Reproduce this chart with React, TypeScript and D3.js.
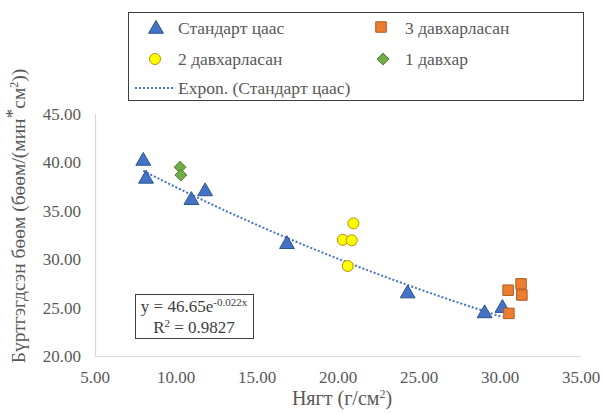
import React from "react";
import * as d3 from "d3";

const standardX = [7.98, 8.15, 10.95, 11.8, 16.85, 24.3, 29.05, 30.15];
const standardY = [40.25, 38.4, 36.2, 37.1, 31.65, 26.55, 24.5, 25.05];
const layer2X = [20.95, 20.3, 20.85, 20.6];
const layer2Y = [33.7, 32.0, 31.95, 29.3];
const layer3X = [30.5, 31.3, 31.35, 30.55];
const layer3Y = [26.8, 27.45, 26.3, 24.4];
const layer1X = [10.25, 10.3];
const layer1Y = [39.5, 38.7];
const xTicks = [5, 10, 15, 20, 25, 30, 35];
const yTicks = [20, 25, 30, 35, 40, 45];
const trendA = 46.65;
const trendB = -0.022;

const W = 603;
const H = 414;
const FONT = "Liberation Serif";

const pairs = (xs: number[], ys: number[]) => xs.map((x, i) => [x, ys[i]] as [number, number]);

export default function App() {
  const x = d3.scaleLinear().domain([5, 35]).range([95, 581]);
  const y = d3.scaleLinear().domain([20, 45]).range([356, 114]);

  const triangle = d3.symbol().type(d3.symbolTriangle).size(95)()!;
  const square = d3.symbol().type(d3.symbolSquare).size(110)()!;
  const diamond = d3.symbol().type(d3.symbolDiamond2).size(90)()!;

  const xMin = d3.min(standardX)!;
  const xMax = d3.max(standardX)!;
  const trendPts = d3.range(0, 51).map((i) => {
    const v = xMin + ((xMax - xMin) * i) / 50;
    return [v, trendA * Math.exp(trendB * v)] as [number, number];
  });
  const trendLine = d3
    .line<[number, number]>()
    .x((d) => x(d[0]))
    .y((d) => y(d[1]))(trendPts)!;

  const tri = (cx: number, cy: number, k: string | number) => (
    <path key={k} d={triangle} transform={`translate(${cx},${cy + 1})`} fill="#4472C4" stroke="#2F528F" strokeWidth={1} />
  );
  const sq = (cx: number, cy: number, k: string | number) => (
    <path key={k} d={square} transform={`translate(${cx},${cy})`} fill="#ED7D31" stroke="#AE5A21" strokeWidth={1} />
  );
  const circ = (cx: number, cy: number, k: string | number) => (
    <circle key={k} cx={cx} cy={cy} r={5.5} fill="#FFFF00" stroke="#BC8C00" strokeWidth={1} />
  );
  const dia = (cx: number, cy: number, k: string | number) => (
    <path key={k} d={diamond} transform={`translate(${cx},${cy})`} fill="#70AD47" stroke="#507E32" strokeWidth={1} />
  );

  const txt = { fontFamily: FONT };

  return (
    <svg width={W} height={H} style={{ position: "absolute", left: 0, top: 0, background: "#fff" }}>
      {/* axes */}
      <line x1={95.5} x2={95.5} y1={114} y2={356} stroke="#D9D9D9" strokeWidth={1.2} />
      <line x1={95} x2={581} y1={356.5} y2={356.5} stroke="#D9D9D9" strokeWidth={1.2} />
      {yTicks.map((t) => (
        <text key={t} x={81} y={y(t)} dy="0.35em" textAnchor="end" fontSize={17} fill="#595959" style={txt}>
          {t.toFixed(2)}
        </text>
      ))}
      {xTicks.map((t) => (
        <text key={t} x={x(t)} y={383} textAnchor="middle" fontSize={17} fill="#595959" style={txt}>
          {t.toFixed(2)}
        </text>
      ))}
      <text x={342} y={405} textAnchor="middle" fontSize={20} fill="#595959" style={txt}>
        Нягт (г/см<tspan dy={-7} fontSize={12}>2</tspan>
        <tspan dy={7}>)</tspan>
      </text>
      <text transform="translate(25,216) rotate(-90)" textAnchor="middle" fontSize={19.5} fill="#595959" style={txt}>
        Бүртгэгдсэн бөөм (бөөм/(мин<tspan dy={-6}>*</tspan>
        <tspan dy={6}>см</tspan>
        <tspan dy={-7} fontSize={12}>2</tspan>
        <tspan dy={7}>))</tspan>
      </text>

      {/* trend */}
      <path d={trendLine} fill="none" stroke="#4472C4" strokeWidth={2} strokeDasharray="2 2" />

      {pairs(standardX, standardY).map((d, i) => tri(x(d[0]), y(d[1]), i))}
      {pairs(layer2X, layer2Y).map((d, i) => circ(x(d[0]), y(d[1]), i))}
      {pairs(layer3X, layer3Y).map((d, i) => sq(x(d[0]), y(d[1]), i))}
      {pairs(layer1X, layer1Y).map((d, i) => dia(x(d[0]), y(d[1]), i))}

      {/* equation */}
      <rect x={135.5} y={294.5} width={118} height={44} fill="#fff" stroke="#404040" strokeWidth={1} />
      <text x={194} y={312} textAnchor="middle" fontSize={17} fill="#404040" style={txt}>
        y = 46.65e<tspan dy={-6} fontSize={11}>-0.022x</tspan>
      </text>
      <text x={194} y={333} textAnchor="middle" fontSize={17} fill="#404040" style={txt}>
        R<tspan dy={-6} fontSize={11}>2</tspan>
        <tspan dy={6}> = 0.9827</tspan>
      </text>

      {/* legend */}
      <rect x={128.5} y={12.5} width={455} height={88} fill="#fff" stroke="#404040" strokeWidth={1} />
      {tri(156, 28, "lt")}
      <text x={178} y={34} fontSize={17.5} fill="#595959" style={txt}>Стандарт цаас</text>
      {sq(381, 27, "ls")}
      <text x={405} y={34} fontSize={17.5} fill="#595959" style={txt}>3 давхарласан</text>
      {circ(155, 59, "lc")}
      <text x={178} y={65} fontSize={17.5} fill="#595959" style={txt}>2 давхарласан</text>
      {dia(383, 59, "ld")}
      <text x={405} y={65} fontSize={17.5} fill="#595959" style={txt}>1 давхар</text>
      <line x1={135} x2={173} y1={88} y2={88} stroke="#4472C4" strokeWidth={2} strokeDasharray="2 2" />
      <text x={178} y={94} fontSize={17.5} fill="#595959" style={txt}>Expon. (Стандарт цаас)</text>
    </svg>
  );
}
